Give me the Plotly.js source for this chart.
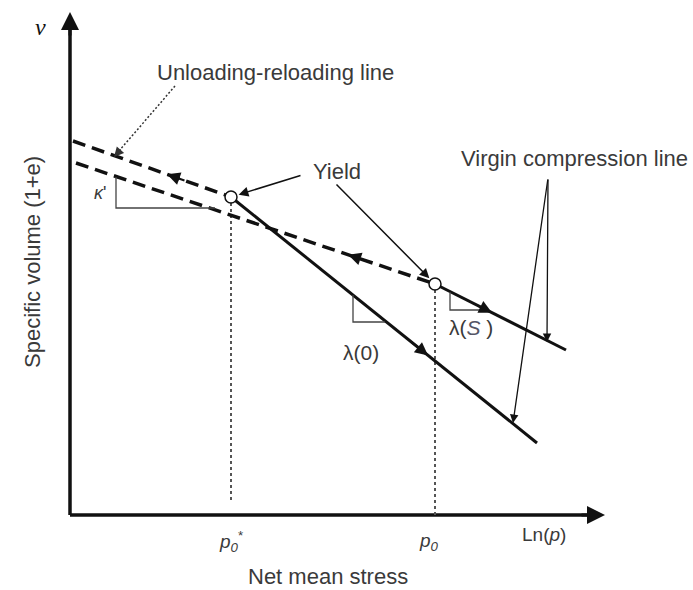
<!DOCTYPE html>
<html>
<head>
<meta charset="utf-8">
<script src="https://cdn.plot.ly/plotly-3.0.1.min.js"></script>
<style>html,body{margin:0;padding:0;background:#fff;}#chart{width:693px;height:590px;}</style>
</head>
<body>
<div id="chart"></div>
<script>
// ---- schematic data (x = ln p units, y = specific volume units) ----
const yieldLnP   = [16.1, 36.5];          // p0*, p0
const yieldV     = [31.8, 23.1];
const vcl0LnP    = [16.1, 46.7];          // virgin compression line, suction 0
const vcl0V      = [31.8, 7.2];
const vclSLnP    = [36.5, 49.6];          // virgin compression line, suction S
const vclSV      = [23.1, 16.5];
const url1LnP    = [0.3, 16.1];           // unloading-reloading line from p0*
const url1V      = [37.4, 31.8];
const url2LnP    = [0.6, 36.5];           // unloading-reloading line from p0
const url2V      = [35.2, 23.1];
const axisXEnd   = 53.5;
const axisYEnd   = 50.3;
const kappaTriX  = [4.6, 4.6, 14.5];
const kappaTriV  = [33.8, 30.7, 30.7];
const lam0TriX   = [28.3, 28.3, 31.5];
const lam0TriV   = [22.0, 19.3, 19.3];
const lamSTriX   = [38.0, 38.0, 41.3];
const lamSTriV   = [22.3, 20.5, 20.5];
const tickLabels = ['<i>p<sub>0</sub></i><sup>*</sup>', '<i>p<sub>0</sub></i>'];
const arrowFrac  = {url1: 0.595, url2: 0.758, vcl0: 0.644, vclS: 0.435};

function along(xs, ys, t) { return [xs[0] + (xs[1]-xs[0])*t, ys[0] + (ys[1]-ys[0])*t]; }

const BLACK = '#111';
const TXT = '#3a3a3a';
const traces = [];
function line(xs, ys, w, dash, color) {
  traces.push({x: xs, y: ys, mode: 'lines', line: {color: color || BLACK, width: w, dash: dash || 'solid'}, hoverinfo: 'skip', showlegend: false});
}
// axes
line([0, 0], [0, axisYEnd - 1.5], 3.5);
line([0, axisXEnd - 1.5], [0, 0], 3.5);
// dotted verticals
line([yieldLnP[0], yieldLnP[0]], [1.5, yieldV[0]], 2, '3px,3px', '#555');
line([yieldLnP[1], yieldLnP[1]], [0, yieldV[1]], 2, '3px,3px', '#555');
// unloading-reloading lines
line(url1LnP, url1V, 3.5, '13px,7px');
line(url2LnP, url2V, 3.5, '13px,7px');
// virgin compression lines
line(vcl0LnP, vcl0V, 3);
line(vclSLnP, vclSV, 3);
// slope triangles
line(kappaTriX, kappaTriV, 1.3, 'solid', '#444');
line(lam0TriX, lam0TriV, 1.3, 'solid', '#444');
line(lamSTriX, lamSTriV, 1.3, 'solid', '#444');
// unloading pointer dotted shaft
line([10.5, 4.9], [42.9, 36.4], 1.5, '2px,2px', '#333');
// yield points
traces.push({x: yieldLnP, y: yieldV, mode: 'markers', marker: {size: 12, color: '#fff', line: {color: BLACK, width: 1.5}}, hoverinfo: 'skip', showlegend: false});

const ann = [];
function arrow(tip, tail, opts) {
  ann.push(Object.assign({x: tip[0], y: tip[1], ax: tail[0], ay: tail[1], xref: 'x', yref: 'y', axref: 'x', ayref: 'y',
    text: '', showarrow: true, arrowhead: 2, arrowsize: 1, arrowwidth: 1.5, arrowcolor: BLACK}, opts || {}));
}
// axis arrowheads
arrow([0, axisYEnd], [0, axisYEnd - 2.5], {arrowwidth: 3, arrowsize: 1.2});
arrow([axisXEnd, 0], [axisXEnd - 2.5, 0], {arrowwidth: 3, arrowsize: 1.2});
// direction arrows on lines
function lineArrow(xs, ys, t, back) {
  const tip = along(xs, ys, t);
  const tail = along(xs, ys, t + back);
  arrow(tip, tail, {arrowwidth: 2, arrowsize: 1.3});
}
lineArrow(url1LnP, url1V, arrowFrac.url1, 0.12);
lineArrow(url2LnP, url2V, arrowFrac.url2, 0.06);
lineArrow(vcl0LnP, vcl0V, arrowFrac.vcl0, -0.06);
lineArrow(vclSLnP, vclSV, arrowFrac.vclS, -0.12);
// pointers
arrow([yieldLnP[0], yieldV[0]], [23.2, 34.0], {standoff: 8, arrowwidth: 1.5, arrowsize: 1.3});
arrow([yieldLnP[1], yieldV[1]], [26.5, 33.2], {standoff: 8, arrowwidth: 1.5, arrowsize: 1.3});
arrow([4.4, 35.8], [5.2, 36.7], {arrowwidth: 1.5, arrowsize: 1.3, arrowcolor: '#333'});
arrow([47.7, 17.3], [47.8, 33.7], {arrowwidth: 1.3, arrowsize: 1.3});
arrow([44.3, 9.2], [47.8, 33.7], {arrowwidth: 1.3, arrowsize: 1.3});

function label(x, y, text, size, extra) {
  ann.push(Object.assign({x: x, y: y, xref: 'x', yref: 'y', text: text, showarrow: false,
    font: {family: 'Liberation Sans, Arial, sans-serif', size: size, color: TXT}}, extra || {}));
}
label(20.5, 44.3, 'Unloading-reloading line', 22);
label(26.7, 34.4, 'Yield', 22);
label(50.4, 35.7, 'Virgin compression line', 22);
label(29.1, 16.3, 'λ(0)', 21);
label(40.1, 18.8, 'λ(<i><span style="color:#556">S</span></i> )', 21);
label(3.0, 32.2, '<i>κ</i>\'', 18);
label(-3.0, 48.8, '<i>v</i>', 22, {font: {family: 'Liberation Serif, serif', size: 24, color: BLACK}});
label(-3.8, 25.3, 'Specific volume (1+e)', 22, {textangle: -90});
label(25.8, -6.1, 'Net mean stress', 22);
label(47.4, -1.9, 'Ln(<i>p</i>)', 19);
label(yieldLnP[0], -2.6, tickLabels[0], 19);
label(yieldLnP[1] - 0.6, -2.7, tickLabels[1], 19);

const layout = {
  width: 693, height: 590,
  margin: {l: 0, r: 0, t: 0, b: 0},
  paper_bgcolor: '#fff', plot_bgcolor: '#fff',
  xaxis: {visible: false, range: [-7.0, 62.3], fixedrange: true},
  yaxis: {visible: false, range: [-7.5, 51.5], fixedrange: true},
  annotations: ann,
  showlegend: false
};
Plotly.newPlot('chart', traces, layout, {staticPlot: true});
</script>
</body>
</html>
